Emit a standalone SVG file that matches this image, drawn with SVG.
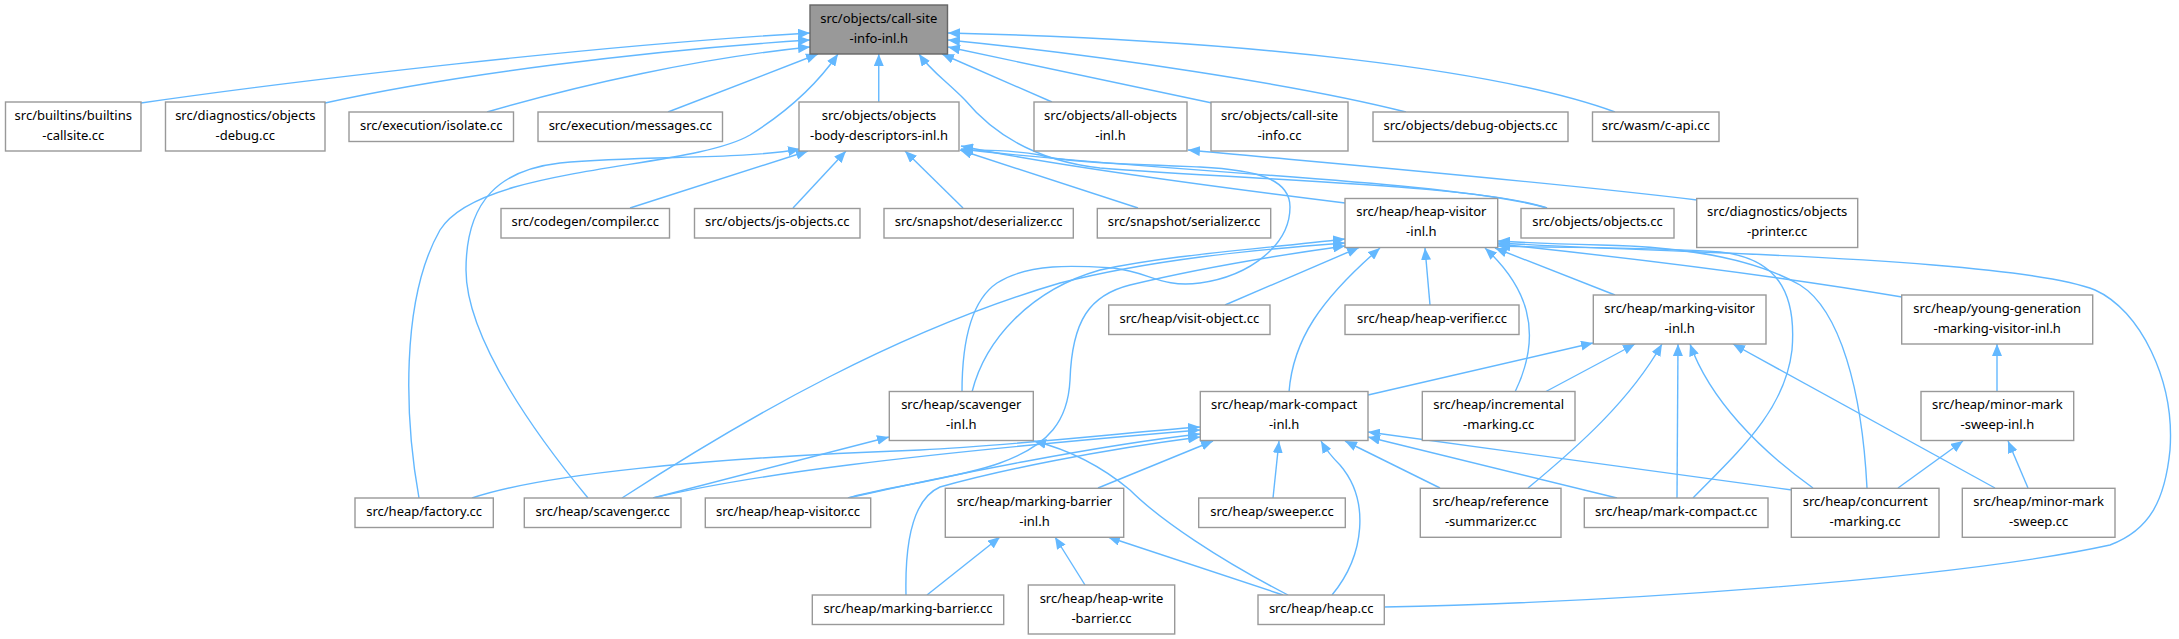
<svg xmlns="http://www.w3.org/2000/svg" width="2179" height="639" viewBox="0 0 2179 639">
<defs>
<marker id="a" viewBox="0 0 12 10" refX="12" refY="5" markerWidth="12" markerHeight="10" markerUnits="userSpaceOnUse" orient="auto"><path d="M0,0L12,5L0,10z" fill="#63b8ff"/></marker>
<style>
.n rect{fill:#fff;stroke:#999;stroke-width:1.4}
.root rect{fill:#999;stroke:#666;stroke-width:1.4}
text{font-family:"Noto Sans","Liberation Sans",sans-serif;font-size:13px;text-anchor:middle;fill:#000}
#edges path{fill:none;stroke:#63b8ff;stroke-width:1.4;marker-end:url(#a)}
</style>
</defs>
<rect width="2179" height="639" fill="#fff"/>
<g id="edges">
<path d="M141,103 C300,80 600,45 810,33"/>
<path d="M325,103 C450,75 650,50 810,40"/>
<path d="M487,112 C580,85 700,58 810,47"/>
<path d="M668,112 L818,54"/>
<path d="M419,498 C405,420 400,300 440,230 C480,165 690,170 750,135 C790,110 820,80 838,54"/>
<path d="M878.75,102 L878.75,54"/>
<path d="M1547,208 C1480,185 1250,180 1100,168 C1030,160 990,130 965,100 C945,80 930,70 919,54"/>
<path d="M1052,102 L942,54"/>
<path d="M1212,103 L948,47"/>
<path d="M1406,112 C1300,85 1100,55 948,40"/>
<path d="M1615,112 C1500,70 1250,40 948,33"/>
<path d="M588,498 C540,440 466,340 466,270 C466,200 500,170 560,163 C650,155 740,160 800,149"/>
<path d="M630,208 L808,151"/>
<path d="M793,208 L846,151"/>
<path d="M963,208 L905,151"/>
<path d="M1138,208 L960,150"/>
<path d="M1345,203 C1200,185 1050,165 961,146"/>
<path d="M1547,208 C1450,180 1150,172 961,149"/>
<path d="M1697,200 C1550,182 1350,165 1188,150"/>
<path d="M962,392 C962,340 972,300 997,283 C1030,262 1080,266 1113,268 C1150,272 1160,288 1200,283 C1250,276 1290,245 1290,207 C1290,180 1260,170 1200,167 C1120,164 1060,162 1040,155 C1010,150 985,150 961,150"/>
<path d="M972,392 C985,340 1030,290 1100,270 C1170,255 1250,250 1345,239"/>
<path d="M622,498 C750,415 900,330 1060,283 C1150,260 1250,250 1345,243"/>
<path d="M848,498 C880,488 960,478 1000,463 C1050,445 1068,420 1070,380 C1072,320 1090,295 1130,285 C1200,268 1280,255 1345,246"/>
<path d="M1225,305 L1359,247.5"/>
<path d="M1289,392 C1293,340 1320,300 1380,248"/>
<path d="M1430,305 L1425,248"/>
<path d="M1515,392 C1545,330 1525,285 1485,248"/>
<path d="M1615,295 L1495,248"/>
<path d="M1902,297 C1800,280 1650,260 1498,244"/>
<path d="M1867,488 C1862,390 1840,310 1800,285 C1760,262 1700,247 1600,245 C1560,244 1530,243 1498,241"/>
<path d="M1693,498 C1740,450 1785,410 1792,350 C1797,290 1775,258 1720,252 C1650,247 1560,248 1498,246"/>
<path d="M1384,607 C1600,603 1950,580 2110,545 C2150,530 2165,500 2170,450 C2175,380 2140,310 2095,290 C2040,268 1850,258 1700,252 C1620,249 1550,246 1498,243"/>
<path d="M1368,395 L1593,343"/>
<path d="M1545,392 L1635,344"/>
<path d="M1528,488 C1580,445 1630,400 1662,344"/>
<path d="M1677,498 L1678,344"/>
<path d="M1813,488 C1760,450 1710,400 1690,344"/>
<path d="M1995,488 L1733,344"/>
<path d="M1997,392 L1997,344"/>
<path d="M1898,488 L1963,441"/>
<path d="M2028,488 L2008,441"/>
<path d="M472,498 C540,475 700,458 920,450 C1020,445 1120,433 1200,427"/>
<path d="M653,498 C750,475 900,455 1200,430"/>
<path d="M653,498 L889,437"/>
<path d="M848,498 C950,475 1100,445 1200,434"/>
<path d="M906,595 C905,550 910,500 940,487 C1000,470 1100,450 1200,437"/>
<path d="M1098,488 L1213,441"/>
<path d="M1273,498 L1279,441"/>
<path d="M1332,595 C1365,555 1370,500 1340,465 C1330,455 1325,448 1321,441"/>
<path d="M1440,488 L1345,441"/>
<path d="M1617,498 L1368,437"/>
<path d="M1792,490 L1368,432"/>
<path d="M1288,595 C1220,560 1160,520 1130,490 C1100,465 1070,450 1034,441"/>
<path d="M927,595 L1000,537"/>
<path d="M1085,585 L1055,537"/>
<path d="M1283,595 L1108,537"/>
</g>
<g id="n0" class="root"><rect x="810" y="5" width="137.5" height="49"/><text x="878.75" y="22.5">src/objects/call-site</text><text x="878.75" y="42.5">-info-inl.h</text></g>
<g id="n1" class="n"><rect x="5.5" y="102" width="135.5" height="49"/><text x="73.25" y="119.5">src/builtins/builtins</text><text x="73.25" y="139.5">-callsite.cc</text></g>
<g id="n2" class="n"><rect x="165.5" y="102" width="159.5" height="49"/><text x="245.25" y="119.5">src/diagnostics/objects</text><text x="245.25" y="139.5">-debug.cc</text></g>
<g id="n3" class="n"><rect x="349" y="112" width="164.5" height="29.5"/><text x="431.25" y="130">src/execution/isolate.cc</text></g>
<g id="n4" class="n"><rect x="538" y="112" width="184.5" height="29.5"/><text x="630.25" y="130">src/execution/messages.cc</text></g>
<g id="n5" class="n"><rect x="799" y="102" width="160" height="49"/><text x="879" y="119.5">src/objects/objects</text><text x="879" y="139.5">-body-descriptors-inl.h</text></g>
<g id="n6" class="n"><rect x="1034" y="102" width="153" height="49"/><text x="1110.5" y="119.5">src/objects/all-objects</text><text x="1110.5" y="139.5">-inl.h</text></g>
<g id="n7" class="n"><rect x="1211" y="102" width="137" height="49"/><text x="1279.5" y="119.5">src/objects/call-site</text><text x="1279.5" y="139.5">-info.cc</text></g>
<g id="n8" class="n"><rect x="1373" y="112" width="195" height="29.5"/><text x="1470.5" y="130">src/objects/debug-objects.cc</text></g>
<g id="n9" class="n"><rect x="1592.5" y="112" width="126.5" height="29.5"/><text x="1655.75" y="130">src/wasm/c-api.cc</text></g>
<g id="n10" class="n"><rect x="501" y="208.5" width="168.5" height="29.5"/><text x="585.25" y="226">src/codegen/compiler.cc</text></g>
<g id="n11" class="n"><rect x="694.5" y="208.5" width="165.5" height="29.5"/><text x="777.25" y="226">src/objects/js-objects.cc</text></g>
<g id="n12" class="n"><rect x="884" y="208.5" width="189.3" height="29.5"/><text x="978.65" y="226">src/snapshot/deserializer.cc</text></g>
<g id="n13" class="n"><rect x="1097.3" y="208.5" width="173.4" height="29.5"/><text x="1184" y="226">src/snapshot/serializer.cc</text></g>
<g id="n14" class="n"><rect x="1345" y="198.5" width="152.7" height="49"/><text x="1421.35" y="216">src/heap/heap-visitor</text><text x="1421.35" y="236">-inl.h</text></g>
<g id="n15" class="n"><rect x="1521" y="208.5" width="153" height="29.5"/><text x="1597.5" y="226">src/objects/objects.cc</text></g>
<g id="n16" class="n"><rect x="1696.7" y="198.5" width="161" height="49"/><text x="1777.2" y="216">src/diagnostics/objects</text><text x="1777.2" y="236">-printer.cc</text></g>
<g id="n17" class="n"><rect x="889.3" y="391.5" width="144" height="49"/><text x="961.3" y="409">src/heap/scavenger</text><text x="961.3" y="429">-inl.h</text></g>
<g id="n18" class="n"><rect x="1108.7" y="305" width="161.3" height="29.5"/><text x="1189.35" y="322.5">src/heap/visit-object.cc</text></g>
<g id="n19" class="n"><rect x="1345" y="305" width="174" height="29.5"/><text x="1432" y="322.5">src/heap/heap-verifier.cc</text></g>
<g id="n20" class="n"><rect x="1593.3" y="295" width="172.7" height="49"/><text x="1679.65" y="312.5">src/heap/marking-visitor</text><text x="1679.65" y="332.5">-inl.h</text></g>
<g id="n21" class="n"><rect x="1901.7" y="295" width="191" height="49"/><text x="1997.2" y="312.5">src/heap/young-generation</text><text x="1997.2" y="332.5">-marking-visitor-inl.h</text></g>
<g id="n22" class="n"><rect x="1200.3" y="391.5" width="167.7" height="49"/><text x="1284.15" y="409">src/heap/mark-compact</text><text x="1284.15" y="429">-inl.h</text></g>
<g id="n23" class="n"><rect x="1422.3" y="391.5" width="152.7" height="49"/><text x="1498.65" y="409">src/heap/incremental</text><text x="1498.65" y="429">-marking.cc</text></g>
<g id="n24" class="n"><rect x="1921" y="391.5" width="152.7" height="49"/><text x="1997.35" y="409">src/heap/minor-mark</text><text x="1997.35" y="429">-sweep-inl.h</text></g>
<g id="n25" class="n"><rect x="355" y="498" width="138.3" height="29.5"/><text x="424.15" y="515.7">src/heap/factory.cc</text></g>
<g id="n26" class="n"><rect x="524.3" y="498" width="156.7" height="29.5"/><text x="602.65" y="515.7">src/heap/scavenger.cc</text></g>
<g id="n27" class="n"><rect x="705.3" y="498" width="165.4" height="29.5"/><text x="788" y="515.7">src/heap/heap-visitor.cc</text></g>
<g id="n28" class="n"><rect x="945.3" y="488.3" width="178.4" height="49"/><text x="1034.5" y="505.8">src/heap/marking-barrier</text><text x="1034.5" y="525.8">-inl.h</text></g>
<g id="n29" class="n"><rect x="1198.7" y="498" width="146.6" height="29.5"/><text x="1272" y="515.7">src/heap/sweeper.cc</text></g>
<g id="n30" class="n"><rect x="1420.3" y="488.3" width="140.7" height="49"/><text x="1490.65" y="505.8">src/heap/reference</text><text x="1490.65" y="525.8">-summarizer.cc</text></g>
<g id="n31" class="n"><rect x="1584.3" y="498" width="183.7" height="29.5"/><text x="1676.15" y="515.7">src/heap/mark-compact.cc</text></g>
<g id="n32" class="n"><rect x="1791.3" y="488.3" width="147.7" height="49"/><text x="1865.15" y="505.8">src/heap/concurrent</text><text x="1865.15" y="525.8">-marking.cc</text></g>
<g id="n33" class="n"><rect x="1962.3" y="488.3" width="152.7" height="49"/><text x="2038.65" y="505.8">src/heap/minor-mark</text><text x="2038.65" y="525.8">-sweep.cc</text></g>
<g id="n34" class="n"><rect x="812.3" y="595" width="191.4" height="29.5"/><text x="908" y="612.7">src/heap/marking-barrier.cc</text></g>
<g id="n35" class="n"><rect x="1028.3" y="585" width="146.4" height="49"/><text x="1101.5" y="602.5">src/heap/heap-write</text><text x="1101.5" y="622.5">-barrier.cc</text></g>
<g id="n36" class="n"><rect x="1258" y="595" width="126.3" height="29.5"/><text x="1321.15" y="612.7">src/heap/heap.cc</text></g>
</svg>
